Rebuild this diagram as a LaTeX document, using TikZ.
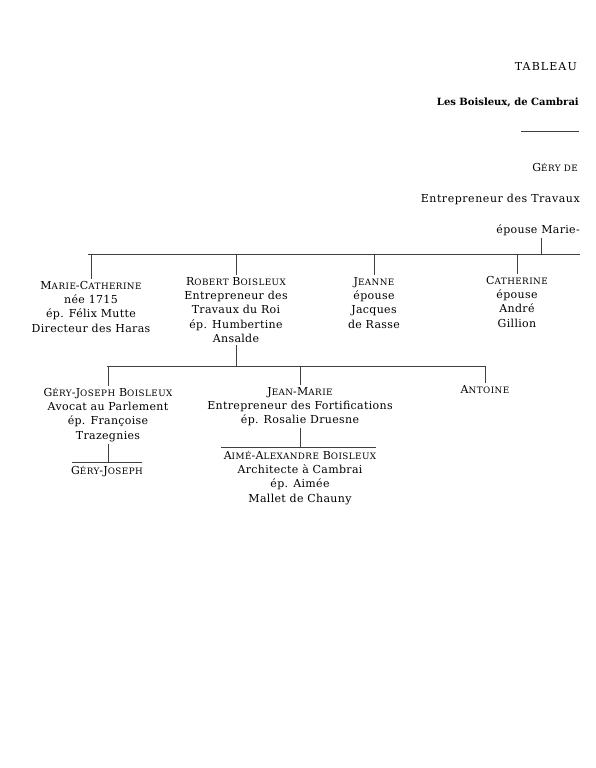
\documentclass[tikz,border=0pt]{standalone}
\usepackage{fontspec}
\setmainfont{DejaVu Serif}[LetterSpace=3]
\newfontfamily\boldtitle{DejaVu Serif}[LetterSpace=0]
\newcommand{\sm}[1]{{\fontsize{8.8}{10}\selectfont\addfontfeature{LetterSpace=5}#1}}
\begin{document}
\begin{tikzpicture}[x=1pt,y=-1pt,
  every node/.style={inner sep=2pt,font=\fontsize{11}{14.3}\selectfont,text=black},
  person/.style={anchor=north,align=center},
  rline/.style={anchor=east},
  link/.style={draw=black!75,line width=0.7pt}]
\fill[white] (0,0) rectangle (596,768);
\useasboundingbox (0,0) rectangle (596,768);
% header
\node[rline] (tab) at (579,67) {\addfontfeature{LetterSpace=10}TABLEAU};
\node[rline,font=\boldtitle\bfseries\fontsize{10}{12}\selectfont] (title) at (581,103) {Les Boisleux, de Cambrai};
\coordinate (hl) at (521,131);
\coordinate (hr) at (579,131);
\draw[link] (hl) -- (hr);
\node[rline] (gery) at (580,167) {G\sm{ÉRY DE}};
\node[rline] (entr) at (582,199) {\addfontfeature{LetterSpace=5}Entrepreneur des Travaux};
\node[rline] (ep) at (582,230) {épouse Marie-};
% first bar
\coordinate (b1l) at (88,254);
\coordinate (b1r) at (580,254);
\coordinate (b1d) at (541,254);
\draw[link] (b1l) -- (b1r);
\draw[link] (ep.south -| b1d) -- (b1d);
% children
\node[person] (mc) at (91,279) {M\sm{ARIE}-C\sm{ATHERINE}\\née 1715\\ép. Félix Mutte\\Directeur des Haras};
\node[person] (rb) at (236,275) {R\sm{OBERT} B\sm{OISLEUX}\\Entrepreneur des\\Travaux du Roi\\ép. Humbertine\\Ansalde};
\node[person] (je) at (374,275) {J\sm{EANNE}\\épouse\\Jacques\\de Rasse};
\node[person] (ca) at (517,274) {C\sm{ATHERINE}\\épouse\\André\\Gillion};
\foreach \n in {mc,rb,je,ca} \draw[link] (\n.north) -- (\n.north |- b1l);
% second bar
\coordinate (b2l) at (107,366);
\coordinate (b2r) at (486,366);
\draw[link] (b2l) -- (b2r);
\draw[link] (rb.south) -- (rb.south |- b2l);
\node[person] (gj) at (108,386) {G\sm{ÉRY}-J\sm{OSEPH} B\sm{OISLEUX}\\Avocat au Parlement\\ép. Françoise\\Trazegnies};
\node[person] (jm) at (300,385) {J\sm{EAN}-M\sm{ARIE}\\Entrepreneur des Fortifications\\ép. Rosalie Druesne};
\node[person] (an) at (485,383) {A\sm{NTOINE}};
\foreach \n in {gj,jm,an} \draw[link] (\n.north) -- (\n.north |- b2l);
% grandchildren
\coordinate (c1l) at (72,462);
\coordinate (c1r) at (142,462);
\draw[link] (c1l) -- (c1r);
\draw[link] (gj.south) -- (gj.south |- c1l);
\node[person] (gj2) at (107,464) {G\sm{ÉRY}-J\sm{OSEPH}};
\coordinate (c2l) at (221,447);
\coordinate (c2r) at (376,447);
\draw[link] (c2l) -- (c2r);
\draw[link] (jm.south) -- (jm.south |- c2l);
\node[person] (aa) at (300,449) {A\sm{IMÉ}-A\sm{LEXANDRE} B\sm{OISLEUX}\\Architecte à Cambrai\\ép. Aimée\\Mallet de Chauny};
\end{tikzpicture}
\end{document}
